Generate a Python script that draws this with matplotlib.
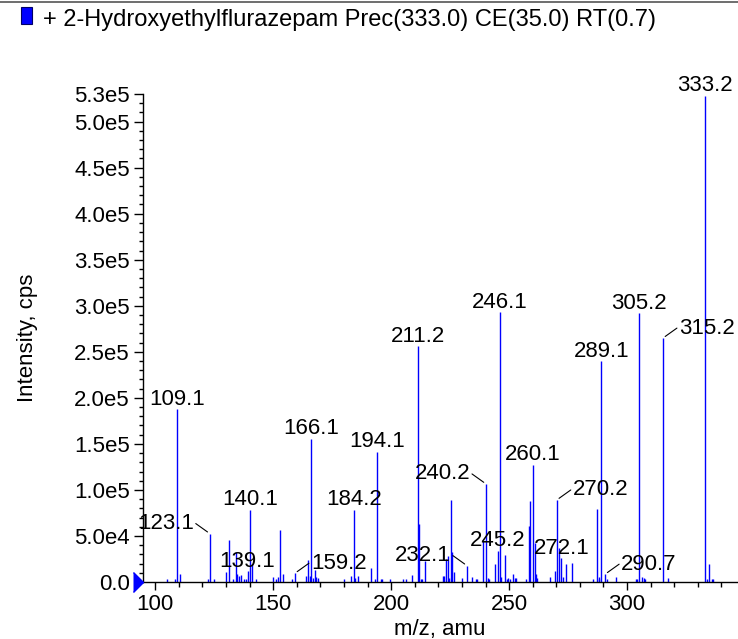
import matplotlib
matplotlib.use("Agg")
import matplotlib.pyplot as plt
from matplotlib.lines import Line2D
from matplotlib.patches import Rectangle
from matplotlib.transforms import blended_transform_factory

# ===== Data =====
title = "+ 2-Hydroxyethylflurazepam Prec(333.0) CE(35.0) RT(0.7)"

mz = [105.1, 108.5, 109.1, 110.4, 122.2, 123.1, 125.0, 130.0, 131.1, 132.9,
      134.1, 134.8, 135.5, 136.2, 137.8, 138.5, 139.1, 140.1, 141.0, 142.9,
      150.1, 151.2, 152.2, 153.0, 154.3, 158.1, 159.2, 164.0, 164.9, 165.4,
      166.1, 166.9, 167.6, 168.3, 169.0, 180.2, 183.1, 184.2, 184.8, 185.8,
      191.3, 193.3, 194.1, 195.6, 196.2, 199.5, 204.9, 206.1, 209.0, 211.2,
      212.0, 212.6, 213.2, 214.2, 221.9, 222.5, 223.3, 224.1, 224.6, 225.4,
      225.9, 226.7, 230.2, 232.1, 234.2, 235.8, 236.3, 239.1, 240.2, 240.9,
      241.5, 244.0, 245.2, 246.1, 246.7, 248.3, 248.9, 249.5, 250.2, 251.5,
      252.3, 252.9, 257.2, 258.3, 259.0, 260.1, 260.9, 261.5, 262.0, 267.4,
      269.5, 270.2, 271.0, 272.1, 273.0, 274.1, 276.6, 285.4, 287.1, 287.9,
      288.3, 289.1, 290.7, 291.4, 295.2, 303.9, 304.4, 305.2, 306.5, 307.0,
      307.5, 315.2, 317.5, 333.2, 333.9, 334.9, 335.8, 336.6]

intensity = [2900, 3000, 187700, 8700, 3000, 52600, 3000, 10500, 45300, 3000,
             32600, 8500, 6300, 7400, 3000, 3000, 11600, 78700, 19200, 3000,
             5000, 3000, 5000, 56200, 8900, 3000, 9500, 6000, 23600, 6000,
             155400, 4000, 13400, 5000, 4500, 3500, 7000, 78700, 4000, 6000,
             15200, 3500, 141700, 3000, 3000, 3000, 3000, 3000, 7500, 256200,
             62700, 3000, 3000, 22500, 7000, 7000, 25000, 28000, 4000, 89100,
             33000, 11000, 4000, 17800, 5000, 3500, 3500, 45700, 106500, 4500,
             3500, 19600, 33700, 292800, 5000, 29300, 3500, 4500, 3500, 9000,
             4000, 4000, 3500, 60900, 88000, 127200, 42000, 9000, 4500, 5000,
             12000, 89100, 36600, 25700, 5000, 19600, 21000, 3000, 79300, 3500,
             5500, 239500, 8500, 3000, 5000, 3000, 3000, 292000, 5500, 4500,
             3000, 264900, 4500, 528000, 3000, 19200, 3000, 3000]

# labelled peaks and where their label sits (top = centred above)
label_mz = [109.1, 123.1, 139.1, 140.1, 159.2, 166.1, 184.2, 194.1, 211.2, 232.1,
            240.2, 245.2, 246.1, 260.1, 270.2, 272.1, 289.1, 290.7, 305.2, 315.2,
            333.2]
label_side = ['top', 'left', 'top', 'top', 'right', 'top', 'top', 'top', 'top', 'left',
              'left', 'top', 'top', 'top', 'right', 'top', 'top', 'right', 'top', 'right',
              'top']

y_ticks = [0, 50000, 100000, 150000, 200000, 250000, 300000, 350000, 400000,
           450000, 500000, 530000]
y_tick_labels = ['0.0', '5.0e4', '1.0e5', '1.5e5', '2.0e5', '2.5e5', '3.0e5',
                 '3.5e5', '4.0e5', '4.5e5', '5.0e5', '5.3e5']
x_ticks = [100, 150, 200, 250, 300]

# ===== Plot =====
plt.rcParams['font.family'] = ['Liberation Sans', 'DejaVu Sans']
FS = 16

fig = plt.figure(figsize=(7.38, 6.39), dpi=100)
ax = fig.add_axes([143 / 738, 57 / 639, 594 / 738, 488 / 639])

ax.vlines(mz, 0, intensity, color='#0000ff', linewidth=1.0)

ax.set_xlim(94.8, 346.6)
ax.set_ylim(0, 530000)

for m, side in zip(label_mz, label_side):
    h = intensity[mz.index(m)]
    txt = f"{m:.1f}"
    if side == 'top':
        ax.annotate(txt, xy=(m, h), xytext=(0, 4.5), textcoords='offset pixels',
                    ha='center', va='baseline', fontsize=FS, annotation_clip=False)
    else:
        sgn = 1 if side == 'right' else -1
        ax.annotate(txt, xy=(m, h), xytext=(sgn * 16, 4.5), textcoords='offset pixels',
                    ha='left' if sgn > 0 else 'right', va='baseline', fontsize=FS,
                    annotation_clip=False)
        ax.annotate('', xy=(m, h), xytext=(sgn * 14, 10), textcoords='offset pixels',
                    arrowprops=dict(arrowstyle='-', color='black', lw=0.8,
                                    shrinkA=0, shrinkB=2),
                    annotation_clip=False)

for s in ['top', 'right']:
    ax.spines[s].set_visible(False)
for s in ['left', 'bottom']:
    ax.spines[s].set_linewidth(1.0)

ax.set_xticks(x_ticks)
ax.set_xticks(list(range(100, 341, 10)), minor=True)
ax.set_yticks(y_ticks)
ax.set_yticklabels(y_tick_labels)
ax.set_yticks(list(range(0, 530001, 10000)), minor=True)
ax.tick_params(axis='x', which='major', length=5.5, width=1, pad=3, labelsize=FS)
ax.tick_params(axis='x', which='minor', length=3.5, width=1)
ax.tick_params(axis='y', which='major', length=6.5, width=1, pad=3, labelsize=FS)
ax.tick_params(axis='y', which='minor', length=3, width=1)

ax.set_xlabel('m/z, amu', fontsize=FS, labelpad=3)
ax.set_ylabel('Intensity, cps', fontsize=FS, labelpad=26)

# blue marker at zero on the intensity axis
trans = blended_transform_factory(ax.transAxes, ax.transData)
ax.plot([0], [0], marker=[(-1, -1), (0, 0), (-1, 1)], markersize=14.4,
        color='#0000ff', transform=trans, clip_on=False, zorder=5)

# header: frame line, colour box and title
fig.add_artist(Line2D([0, 1], [1 - 2 / 639, 1 - 2 / 639], transform=fig.transFigure,
                      color='#555555', lw=1.2))
fig.add_artist(Rectangle((21 / 738, 1 - 24 / 639), 11 / 738, 17 / 639,
                         transform=fig.transFigure, facecolor='#0000ff',
                         edgecolor='#000066', lw=0.8))
fig.text(43 / 738, 1 - 26 / 639, title, fontsize=17, ha='left', va='baseline')

fig.savefig('out.png', dpi=100)
